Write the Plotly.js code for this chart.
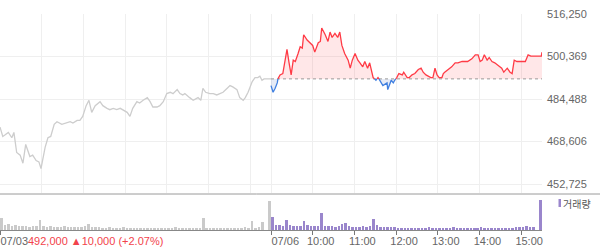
<!DOCTYPE html>
<html>
<head>
<meta charset="utf-8">
<script src="https://cdn.plot.ly/plotly-3.0.1.min.js"></script>
<style>
  html, body { margin: 0; padding: 0; background: #fff; }
  #chart { width: 600px; height: 248px; }
</style>
</head>
<body>
<div id="chart"></div>
<script>
// ---------------- DATA ----------------
const dates = ["07/03", "07/06"];
const prevClose = 492000;
const headlineText = "492,000 ▲10,000 (+2.07%)";

const day1Times = ["09:00","09:04","09:07","09:12","09:17","09:20","09:24","09:29","09:33","09:37","09:43","09:47","09:52","09:56","09:59",
  "10:05","10:09","10:13","10:18","10:22","10:29","10:35","10:41","10:45","10:51","10:55","10:59",
  "11:04","11:08","11:12","11:17","11:24","11:28","11:34","11:38","11:43","11:48","11:53","11:57",
  "12:03","12:07","12:11","12:17","12:21","12:26","12:32","12:36","12:40","12:46","12:50","12:55",
  "13:00","13:05","13:09","13:15","13:19","13:23","13:26","13:33","13:38","13:45","13:49","13:52","13:56",
  "14:02","14:07","14:12","14:17","14:21","14:27","14:31","14:35","14:41","14:45","14:50","14:53","14:57",
  "15:03","15:07","15:11","15:14","15:17","15:20","15:30"];
const day1Prices = [474000,470500,471000,472000,470000,472000,464500,463500,460500,467500,463000,463500,461500,461000,458500,
  466500,470000,470500,475000,476000,475000,475500,476000,475500,476500,476500,478000,
  482000,484000,479500,482000,483500,482000,481000,480500,481000,480500,481000,480500,
  479500,478000,481000,483500,483000,484000,485000,483500,481500,481500,482000,483500,
  486500,487000,486500,488000,486500,486000,486500,485000,484000,485000,484000,488500,487000,
  486500,486500,486000,486500,487000,488500,489500,489000,488000,485000,484000,485000,487000,
  491000,492500,492500,493000,491500,492000,492000];

const day2Times = ["09:00","09:03","09:06","09:09","09:10","09:13","09:17","09:23","09:26","09:29","09:32","09:35","09:39","09:42","09:45","09:47","09:52","09:56",
  "10:00","10:03","10:08","10:11","10:13","10:18","10:22","10:25","10:28","10:32","10:36","10:39","10:42","10:46","10:51","10:54","10:57",
  "11:01","11:05","11:08","11:12","11:15","11:19","11:22","11:25","11:27","11:31","11:34","11:38","11:41","11:47","11:48","11:53","11:56","11:58",
  "12:01","12:04","12:09","12:11","12:16","12:19","12:23","12:27","12:32","12:36","12:39","12:43","12:46","12:50","12:53","12:56","12:59",
  "13:02","13:06","13:08","13:10","13:15","13:20","13:25","13:29","13:35","13:39","13:43","13:49","13:54","13:58",
  "14:01","14:04","14:07","14:11","14:14","14:18","14:22","14:27","14:32","14:35","14:40","14:44","14:47","14:50","14:54","14:57",
  "15:01","15:06","15:10","15:14","15:20","15:29","15:30"];
const day2Prices = [489500,487000,488500,490500,492000,493500,494000,503000,498000,493500,499000,498500,501500,504000,503500,508500,506500,505500,
  504500,502000,505500,506000,511000,508500,506000,509500,507500,509000,507500,509500,504500,501500,499000,496000,499000,
  501500,499000,498000,496500,498500,496000,498000,494500,492500,491500,492500,491000,489500,490500,488000,491500,490500,491500,
  492500,494000,493500,494500,492500,492500,493500,494000,495500,496000,494500,493500,493000,492500,492500,496000,493500,
  492500,492500,494000,494500,495500,496500,498000,498000,498500,498500,498500,499500,501000,501000,
  498500,499000,501000,499000,500000,498500,498000,497000,496000,494500,496000,494500,494000,499000,498500,498500,
  498500,498500,501000,500500,500500,500500,502000];

// Volume per 5-minute bucket (thousand shares), 78 buckets per day
const day1Volume = [12,5,6,4,5,4,4,4,3,4, 4,10,4,3,4,3,3,3,4,3, 3,3,3,3,4,6,3,3,3,2, 2,3,2,2,2,3,2,2,2,2,
  2,2,2,2,2,2,2,2,2,2, 3,2,2,2,2,2,2,2,12,2, 2,2,2,2,2,2,2,2,2,2, 3,2,9,2,3,8,0,29];
const day2Volume = [13,5,5,4,10,5,4,4,4,9, 5,4,4,4,17,4,4,4,3,4, 6,7,4,3,3,3,4,3,4,11, 5,3,3,3,3,3,2,2,2,2,
  2,2,2,2,2,3,2,2,2,2, 2,2,3,2,2,2,2,2,2,2, 3,2,2,2,2,2,2,2,2,2, 3,3,3,4,3,3,0,30];

const priceTicks = [452725, 468606, 484488, 500369, 516250];
const hourLabels = ["10:00","11:00","12:00","13:00","14:00","15:00"];
const volumeLegend = "거래량";

// ---------------- HELPERS ----------------
const SESSION = 390; // minutes per session 09:00-15:30
function toIdx(t, day) {
  const [h, m] = t.split(":").map(Number);
  return day * SESSION + (h - 9) * 60 + m;
}
const x1 = day1Times.map(t => toIdx(t, 0));
const x2 = day2Times.map(t => toIdx(t, 1));

// insert baseline crossings for day 2
const pts = [];
for (let i = 0; i < x2.length; i++) {
  pts.push({x: x2[i], y: day2Prices[i]});
  if (i < x2.length - 1) {
    const a = day2Prices[i] - prevClose, b = day2Prices[i + 1] - prevClose;
    if (a * b < 0) {
      const xc = x2[i] + (x2[i + 1] - x2[i]) * (-a) / (b - a);
      pts.push({x: xc, y: prevClose});
    }
  }
}
const px = pts.map(p => p.x);
const upper = pts.map(p => Math.max(p.y, prevClose));
const lower = pts.map(p => Math.min(p.y, prevClose));
const redY = pts.map(p => p.y >= prevClose ? p.y : null);
const blueY = pts.map(p => p.y <= prevClose ? p.y : null);
const baseY = pts.map(() => prevClose);

const vx1 = day1Volume.map((v, i) => i * 5 + 2.5);
const vx2 = day2Volume.map((v, i) => SESSION + i * 5 + 2.5);

const fmt = v => v.toLocaleString("en-US");

// ---------------- TRACES ----------------
const RED = "#ff3b46", BLUE = "#3f7fe0", GRAY = "#cdcdcd", PURPLE = "#9a86cc";
const traces = [
  {x: px, y: baseY, mode: "lines", line: {width: 0}, hoverinfo: "skip", xaxis: "x", yaxis: "y"},
  {x: px, y: upper, mode: "lines", line: {width: 0}, fill: "tonexty", fillcolor: "rgba(255,70,80,0.13)", hoverinfo: "skip", xaxis: "x", yaxis: "y"},
  {x: px, y: baseY, mode: "lines", line: {width: 0}, hoverinfo: "skip", xaxis: "x", yaxis: "y"},
  {x: px, y: lower, mode: "lines", line: {width: 0}, fill: "tonexty", fillcolor: "rgba(80,110,190,0.14)", hoverinfo: "skip", xaxis: "x", yaxis: "y"},
  {x: [SESSION, 2 * SESSION], y: [prevClose, prevClose], mode: "lines", line: {color: "#9a9a9a", width: 1, dash: "dot"}, xaxis: "x", yaxis: "y"},
  {x: x1, y: day1Prices, mode: "lines", line: {color: GRAY, width: 1.3}, xaxis: "x", yaxis: "y"},
  {x: px, y: redY, mode: "lines", line: {color: RED, width: 1.3}, connectgaps: false, xaxis: "x", yaxis: "y"},
  {x: px, y: blueY, mode: "lines", line: {color: BLUE, width: 1.3}, connectgaps: false, xaxis: "x", yaxis: "y"},
  {type: "bar", x: vx1, y: day1Volume, width: 3.6, marker: {color: "#cacaca", line: {width: 0}}, xaxis: "x2", yaxis: "y2"},
  {type: "bar", x: vx2, y: day2Volume, width: 3.6, marker: {color: PURPLE, line: {width: 0}}, xaxis: "x2", yaxis: "y2"},
  {x: [0], y: [0], mode: "markers", marker: {opacity: 0}, xaxis: "x3", yaxis: "y2", hoverinfo: "skip"}
];

// ---------------- LAYOUT ----------------
const gridX = [60,120,180,240,300,360,390,450,510,570,630,690,750];
const hourVals = hourLabels.map(t => toIdx(t, 1));
const PH = 216; // plot height in px
const FONT = "Liberation Sans, Arial, sans-serif";

const layout = {
  width: 600, height: 248,
  margin: {l: 0, r: 58, t: 14, b: 18, pad: 0},
  paper_bgcolor: "#fff", plot_bgcolor: "#fff",
  showlegend: false,
  barmode: "overlay",
  font: {family: FONT, size: 11, color: "#666"},
  xaxis: {domain: [0, 1], range: [0, 2 * SESSION], anchor: "y", tickvals: gridX, showticklabels: false, ticks: "",
          showgrid: true, gridcolor: "#efefef", gridwidth: 1, zeroline: false, showline: false, fixedrange: true},
  yaxis: {domain: [37 / PH, 1], range: [449361, 516250], side: "right", anchor: "x",
          tickvals: priceTicks, ticktext: priceTicks.map(fmt), ticks: "", ticklabelstandoff: 4,
          showgrid: true, gridcolor: "#efefef", gridwidth: 1, zeroline: false, showline: false,
          tickfont: {family: FONT, size: 11, color: "#666"}, fixedrange: true},
  xaxis2: {domain: [0, 1], range: [0, 2 * SESSION], anchor: "y2", tickvals: hourVals, ticktext: hourLabels,
           ticks: "outside", ticklen: 4, tickcolor: "#777", tickwidth: 1, showline: true, linecolor: "#888", linewidth: 1,
           showgrid: false, zeroline: false, ticklabelshift: 8, ticklabelstandoff: -3, ticklabeloverflow: "allow",
           tickfont: {family: FONT, size: 11, color: "#666"}, fixedrange: true},
  xaxis3: {range: [0, 2 * SESSION], overlaying: "x2", anchor: "y2", side: "bottom", tickvals: [0, SESSION], ticktext: dates,
           ticks: "outside", ticklen: 4, tickcolor: "#777", tickwidth: 1, showline: false, showgrid: false, zeroline: false,
           ticklabelposition: "outside right", ticklabelstandoff: 1, ticklabeloverflow: "allow",
           tickfont: {family: FONT, size: 11, color: "#666"}, fixedrange: true},
  yaxis2: {domain: [0, 36 / PH], range: [0, 36], anchor: "x2", showticklabels: false, showgrid: false, zeroline: false, showline: false, fixedrange: true},
  bargap: 0,
  shapes: [
    {type: "line", xref: "paper", yref: "paper", x0: 0, x1: 600 / 542, y0: 36 / PH, y1: 36 / PH, line: {color: "#9a9a9a", width: 1}},
    {type: "rect", xref: "paper", yref: "paper", x0: 558.5 / 542, x1: 561 / 542, y0: 23 / PH, y1: 31 / PH, line: {width: 0}, fillcolor: PURPLE}
  ],
  annotations: [
    {xref: "paper", yref: "paper", x: 26 / 542, y: -11 / PH, xanchor: "left", yanchor: "middle", showarrow: false,
     text: headlineText, font: {family: FONT, size: 11, color: "#f2434b"}},
    {xref: "paper", yref: "paper", x: 561 / 542, y: 27 / PH, xanchor: "left", yanchor: "middle", showarrow: false,
     text: volumeLegend, font: {family: "Noto Sans CJK KR, sans-serif", size: 10, color: "#555"}}
  ]
};

Plotly.newPlot("chart", traces, layout, {displayModeBar: false, staticPlot: true});
</script>
</body>
</html>
